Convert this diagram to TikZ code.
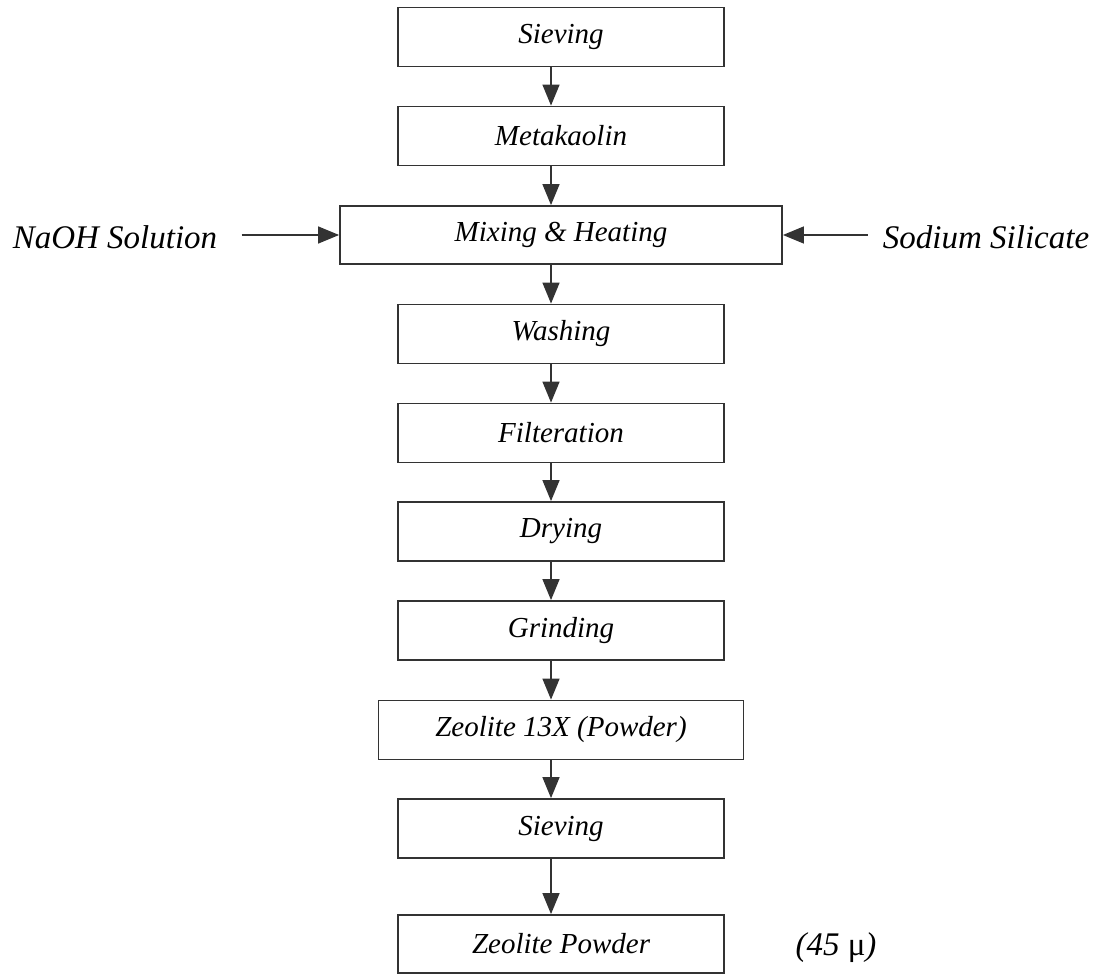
\documentclass[tikz,border=0pt]{standalone}
\usepackage{fontspec}
\setmainfont{Liberation Serif}
\usetikzlibrary{arrows.meta}
\begin{document}
\begin{tikzpicture}[x=0.5pt,y=-0.5pt,
  box/.style={draw=black!80, line width=0.9pt, minimum height=29.5pt, minimum width=163pt, inner sep=0pt, font=\fontsize{14.5}{17}\selectfont\itshape},
  lbl/.style={font=\fontsize{16.5}{19}\selectfont\itshape, inner sep=0pt},
  arr/.style={draw=black!80, line width=0.7pt, -{Triangle[length=10.5pt,width=8.5pt]}}]
\useasboundingbox (0,0) rectangle (1096,974);
\node[box] (s1) at (561,37) {Sieving};
\node[box] (s2) at (561,136) {Metakaolin};
\node[box, minimum width=221pt, minimum height=29pt] (s3) at (561,235) {Mixing \& Heating};
\node[box] (s4) at (561,334) {Washing};
\node[box] (s5) at (561,433) {Filteration};
\node[box] (s6) at (561,531.5) {Drying};
\node[box] (s7) at (561,630.5) {Grinding};
\node[box, minimum width=182.5pt] (s8) at (561,730) {Zeolite 13X (Powder)};
\node[box] (s9) at (561,828.5) {Sieving};
\node[box, minimum height=29pt] (s10) at (561,944) {Zeolite Powder};
\node[lbl] (naoh) at (115,237) {NaOH Solution};
\node[lbl] (sod) at (986,237) {Sodium Silicate};
\node[lbl] (size) at (836,948) {(45 {\upshape μ})};
\foreach \a/\b in {s1/s2,s2/s3,s3/s4,s4/s5,s5/s6,s6/s7,s7/s8,s8/s9,s9/s10}
  \draw[arr] ([xshift=-5pt]\a.south) -- ([xshift=-5pt]\b.north);
\draw[arr] ([xshift=12pt]naoh.east |- s3.west) -- (s3.west);
\draw[arr] ([xshift=-7.5pt]sod.west |- s3.east) -- (s3.east);
\end{tikzpicture}
\end{document}
